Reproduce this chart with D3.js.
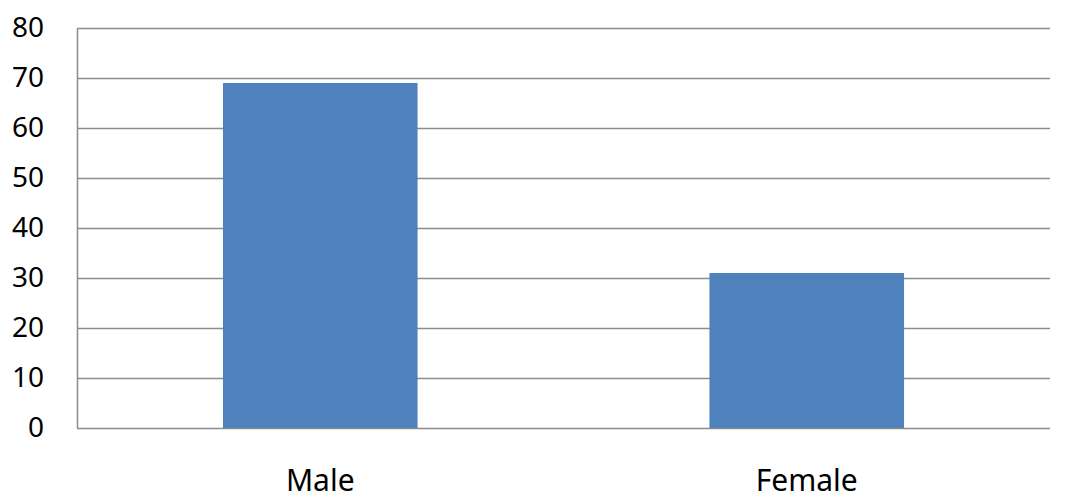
<!DOCTYPE html>
<html lang="en">
<head>
    <meta charset="UTF-8">
    <script src="https://d3js.org/d3.v7.min.js"></script>
    <title>Male / Female</title>
    <style>
        body { margin: 0; background: white; }
        svg { display: block; }
        .tick text { font-family: "Noto Sans", sans-serif; fill: #000; }
    </style>
</head>
<body>
    <div id="chart"></div>
    <script>
        // chart data
        const categories = ["Male", "Female"];
        const values = [69, 31];
        const yTicks = [0, 10, 20, 30, 40, 50, 60, 70, 80];

        const W = 1068, H = 501;
        const margin = { top: 28, right: 18, bottom: 73, left: 77 };
        const width = W - margin.left - margin.right;
        const height = H - margin.top - margin.bottom;

        const svg = d3.select("#chart").append("svg")
            .attr("width", W)
            .attr("height", H);

        const g = svg.append("g")
            .attr("transform", "translate(" + margin.left + "," + margin.top + ")");

        const x = d3.scaleBand().domain(categories).range([0, width]).padding(0);
        const y = d3.scaleLinear().domain([0, 80]).range([height, 0]);

        // gridlines
        g.append("g")
            .selectAll("line")
            .data(yTicks)
            .join("line")
            .attr("x1", 0)
            .attr("x2", width)
            .attr("y1", d => Math.round(y(d)) + 0.5)
            .attr("y2", d => Math.round(y(d)) + 0.5)
            .attr("stroke", "#8c8c8c")
            .attr("stroke-width", 1.5);

        // bars, 40% of the category width
        const barW = x.bandwidth() * 0.4;
        g.selectAll("rect.bar")
            .data(values)
            .join("rect")
            .attr("class", "bar")
            .attr("x", (d, i) => x(categories[i]) + (x.bandwidth() - barW) / 2)
            .attr("y", d => y(d))
            .attr("width", barW)
            .attr("height", d => y(0) - y(d))
            .attr("fill", "#4f81bd");

        // y axis
        const yAxis = g.append("g")
            .call(d3.axisLeft(y).tickValues(yTicks).tickSize(0).tickPadding(33));
        yAxis.select(".domain").attr("stroke", "#8c8c8c").attr("stroke-width", 1.5);
        yAxis.selectAll(".tick text").attr("font-size", 28);

        // x axis labels
        const xAxis = g.append("g")
            .attr("transform", "translate(0," + height + ")")
            .call(d3.axisBottom(x).tickSize(0).tickPadding(42));
        xAxis.select(".domain").remove();
        xAxis.selectAll(".tick text").attr("font-size", 30);
    </script>
</body>
</html>
